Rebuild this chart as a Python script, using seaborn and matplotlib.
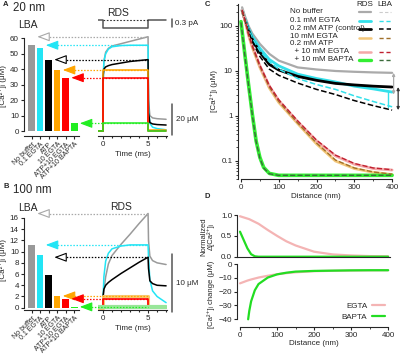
import matplotlib
matplotlib.use("Agg")
import matplotlib.pyplot as plt
import matplotlib.ticker as mticker
from matplotlib.lines import Line2D
import seaborn as sns

# %% Datos

# Panel A / B - barras LBA
bar_labels = ["No buffer", "0.1 EGTA", "ATP", "10 EGTA", "ATP+10 EGTA", "ATP+10 BAPTA"]
bar_colors = ["#999999", "#22e5f5", "#000000", "#ffa500", "#ff0000", "#22ee22"]
lba_20nm = [55.5, 54.0, 46.0, 39.5, 34.5, 5.0]
lba_100nm = [11.2, 9.4, 5.8, 2.0, 1.5, 0.15]

# valores RDS al final del pulso (de ahi salen las flechas)
rds_peak_20nm = [61.0, 55.5, 46.2, 39.5, 34.5, 5.0]
rds_peak_100nm = [16.8, 11.2, 9.0, 2.1, 1.6, 0.15]

# trazas RDS (tiempo en ms)
t_curve = [-0.55, 0, 0.02, 0.1, 0.3, 0.6, 1, 2, 3, 4, 5, 5.05, 5.2, 5.5, 6, 7]
a_nobuf = [0, 0, 30, 45, 51, 53.5, 55, 56.5, 58, 59.5, 61, 20, 10, 8.5, 8, 7.6]
a_egta01 = [0, 0, 30, 45, 50, 53, 54.5, 55.3, 55.5, 55.5, 55.5, 15, 5, 2.5, 1.6, 0.8]
a_atp = [0, 0, 36, 40, 41.5, 42.3, 43, 44, 45, 45.6, 46.2, 12, 5.5, 4.6, 4.2, 3.9]
b_nobuf = [0, 0, 1.5, 3, 5.5, 7.8, 9.3, 11.3, 13.1, 15.0, 16.8, 12, 9.2, 8.4, 8.0, 7.7]
b_egta01 = [0, 0, 2, 5.5, 8.3, 9.7, 10.5, 11.0, 11.2, 11.2, 11.2, 9, 5, 3, 2, 0.9]
b_atp = [0, 0, 2.2, 3.3, 4.0, 4.5, 5.0, 6.1, 7.1, 8.1, 9.0, 7, 4.8, 4.3, 4.0, 3.9]

t_step = [-0.55, 0, 0, 5, 5, 7]
a_egta10 = [0, 0, 39.5, 39.5, 0.5, 0.5]
a_atp_egta = [0, 0, 34.5, 34.5, 0.3, 0.3]
a_atp_bapta = [0, 0, 5.0, 5.0, 0.2, 0.2]
b_egta10 = [0, 0, 2.1, 2.1, 0.1, 0.1]
b_atp_egta = [0, 0, 1.6, 1.6, 0.1, 0.1]
b_atp_bapta = [0.1, 0.1, 0.15, 0.15, 0.08, 0.08]

# corriente de Ca (pA)
t_cur = [-0.55, 0, 0, 5, 5, 7]
i_cur = [0, 0, -0.3, -0.3, 0, 0]

# Panel C - perfiles espaciales (nm, uM)
c_dist = [3, 10, 20, 30, 50, 75, 100, 150, 200, 250, 300, 350, 400]
c_nobuf_rds = [260, 170, 100, 68, 40, 24, 17, 12, 10.8, 10, 9.6, 9.3, 9.1]
c_egta01_rds = [230, 150, 88, 58, 32, 18, 13, 8.5, 6.8, 5.7, 4.6, 4.0, 3.4]
c_egta01_lba = [230, 150, 85, 54, 28, 16, 11, 6.8, 5.0, 3.9, 2.8, 2.1, 1.6]
c_atp_rds = [220, 140, 80, 50, 26, 14, 10.5, 7.6, 6.2, 5.3, 4.9, 4.6, 4.4]
c_atp_lba = [220, 140, 75, 45, 21, 11, 8, 5.4, 3.9, 3.0, 2.2, 1.7, 1.35]
c_egta10_rds = [225, 140, 62, 33, 12, 4.2, 2.0, 0.68, 0.24, 0.10, 0.068, 0.056, 0.050]
c_egta10_lba = [220, 138, 63, 34, 12.5, 4.4, 2.1, 0.70, 0.25, 0.105, 0.070, 0.057, 0.051]
c_atpegta_rds = [230, 145, 65, 36, 13, 4.6, 2.2, 0.75, 0.28, 0.13, 0.085, 0.068, 0.063]
c_atpegta_lba = [228, 142, 66, 37, 13.5, 4.8, 2.3, 0.78, 0.29, 0.135, 0.088, 0.070, 0.064]
c_dist_bapta = [0, 10, 20, 30, 40, 50, 60, 75, 100, 200, 300, 400]
c_bapta_rds = [125, 24, 5, 1.1, 0.28, 0.12, 0.072, 0.053, 0.048, 0.048, 0.048, 0.048]
c_bapta_lba = [120, 23, 4.8, 1.05, 0.27, 0.115, 0.07, 0.052, 0.048, 0.048, 0.048, 0.048]

# Panel D
d_dist_egta = [0, 25, 50, 75, 100, 125, 150, 200, 250, 300, 350, 400]
d_norm_egta = [0.97, 0.9, 0.79, 0.64, 0.5, 0.37, 0.27, 0.12, 0.055, 0.03, 0.015, 0.01]
d_dist_bnorm = [0, 5, 10, 20, 30, 40, 50, 400]
d_norm_bapta = [0.6, 0.5, 0.4, 0.2, 0.06, 0.01, 0.0, 0.0]
d_dist_echg = [0, 10, 20, 30, 40, 50, 75, 100, 125, 150, 200, 250, 300, 350, 400]
d_chg_egta = [-14, -13, -12, -11.2, -10.5, -9.8, -8.5, -7.4, -6.6, -6.0, -5.2, -4.9, -4.7, -4.6, -4.5]
d_dist_bchg = [22, 25, 30, 40, 50, 75, 100, 125, 150, 200, 250, 300, 350, 400]
d_chg_bapta = [-40, -34, -27, -19, -14.5, -9.8, -7.5, -6.3, -5.5, -5.0, -4.8, -4.6, -4.5, -4.5]

# %% Estilo
sns.set_style("ticks")
plt.rcParams["font.family"] = ["Liberation Sans", "DejaVu Sans"]
plt.rcParams["axes.linewidth"] = 0.8
plt.rcParams["xtick.major.width"] = 0.8
plt.rcParams["ytick.major.width"] = 0.8
plt.rcParams["xtick.major.size"] = 2.5
plt.rcParams["ytick.major.size"] = 2.5
plt.rcParams["xtick.minor.size"] = 1.5
plt.rcParams["ytick.minor.size"] = 1.5
plt.rcParams["xtick.labelsize"] = 5.8
plt.rcParams["ytick.labelsize"] = 5.8
plt.rcParams["xtick.major.pad"] = 1.2
plt.rcParams["ytick.major.pad"] = 1.2

FS = 5.8  # texto chico
W, H = 400, 355
fig = plt.figure(figsize=(W / 100, H / 100), dpi=100)


def px_ax(x0, y0, x1, y1):
    return fig.add_axes([x0 / W, 1 - y1 / H, (x1 - x0) / W, (y1 - y0) / H])


def px_text(x, y, s, **kw):
    fig.text(x / W, 1 - y / H, s, **kw)


ylab = "[Ca²⁺]ᵢ (μM)"


def panel_lba(y0, y1, ylim, vals, yticks):
    ax = px_ax(24, y0, 79.3, y1)
    sns.barplot(x=bar_labels, y=vals, hue=bar_labels, palette=bar_colors, legend=False,
                width=0.78, saturation=1, ax=ax, edgecolor="none")
    ax.set_xlim(-0.9, 5.6)
    ax.set_ylim(*ylim)
    ax.set_yticks(yticks)
    ax.spines[["top", "right"]].set_visible(False)
    ax.spines["left"].set_bounds(yticks[0], yticks[-1])
    ax.set_xticks(range(6))
    ax.set_xticklabels(bar_labels, rotation=45, ha="right", rotation_mode="anchor", fontsize=5.0)
    ax.tick_params(axis="x", pad=1.0)
    ax.set_xlabel("")
    ax.set_ylabel(ylab, fontsize=FS)
    ax.yaxis.set_label_coords(-0.3, 0.5)
    return ax


def panel_rds(y0, y1, ylim, curves, steps, step_lw):
    ax = px_ax(98, y0, 167, y1)
    for vals, col in curves:
        sns.lineplot(x=t_curve, y=vals, color=col, lw=1.1, estimator=None, sort=False, ax=ax)
    for (vals, col), lw in zip(steps, step_lw):
        sns.lineplot(x=t_step, y=vals, color=col, lw=lw, estimator=None, sort=False, ax=ax)
    ax.set_xlim(-0.55, 7.1)
    ax.set_ylim(*ylim)
    ax.spines[["top", "right", "left"]].set_visible(False)
    ax.set_yticks([])
    ax.set_xticks([0, 5])
    ax.xaxis.set_minor_locator(mticker.FixedLocator([1, 2, 3, 4, 6, 7]))
    ax.tick_params(axis="x", which="minor", length=1.5, width=0.8)
    ax.set_xlabel("Time (ms)", fontsize=FS, labelpad=2)
    return ax


def arrows(ax_bar, ax_tr, peaks):
    styles = [("#a8a8a8", "white"), ("#22e5f5", "#22e5f5"), ("#000000", "white"),
              ("#ffa500", "#ffa500"), ("#ff0000", "#ff0000"), ("#22ee22", "#22ee22")]
    for i, v in enumerate(peaks):
        disp = ax_bar.transData.transform((i + 0.39, v))
        tip = ax_tr.transData.inverted().transform(disp)[0] + 0.25
        ec, fc = styles[i]
        ax_tr.plot([tip + 0.6, 5], [v, v], color=ec, lw=0.9, ls=(0, (1.2, 1.3)), clip_on=False)
        ax_tr.annotate("", xy=(tip, v), xytext=(tip + 1.15, v), annotation_clip=False,
                       arrowprops=dict(arrowstyle="-|>,head_length=0.75,head_width=0.28",
                                       mutation_scale=10, fc=fc, ec=ec, lw=0.8,
                                       shrinkA=0, shrinkB=0))


# %% Panel A
axA = panel_lba(35.2, 136, (-3.2, 62), lba_20nm, [0, 10, 20, 30, 40, 50, 60])
axAt = panel_rds(35.2, 136, (-3.2, 62),
                 [(a_nobuf, "#9a9a9a"), (a_egta01, "#22e5f5"), (a_atp, "#000000")],
                 [(a_egta10, "#ffa500"), (a_atp_egta, "#ff0000"), (a_atp_bapta, "#22ee22")],
                 [1.1, 1.1, 1.1])
arrows(axA, axAt, rds_peak_20nm)
axAt.plot([7.65, 7.65], [-2.5, 17.5], color="#555555", lw=1.1, clip_on=False)
axAt.text(8.1, 7.5, "20 μM", fontsize=FS, va="center", ha="left")

axI = px_ax(98, 14, 167, 33)
sns.lineplot(x=t_cur, y=i_cur, color="#555555", lw=1.1, estimator=None, sort=False, ax=axI)
axI.plot([0, 5], [0, 0], color="#333333", lw=0.8, ls=(0, (1.5, 1.5)))
axI.set_xlim(-0.55, 7.1)
axI.set_ylim(-0.4875, 0.225)
axI.axis("off")
axI.plot([7.65, 7.65], [0.02, -0.26], color="#555555", lw=1.1, clip_on=False)
axI.text(8.0, -0.12, "0.3 pA", fontsize=FS, va="center", ha="left")

px_text(3, 5, "A", fontsize=5.5, fontweight="bold", va="center")
px_text(13, 8, "20 nm", fontsize=8.3, va="center")
px_text(18, 25, "LBA", fontsize=7.5, va="center")
px_text(118, 13, "RDS", fontsize=7.5, va="center", ha="center")

# %% Panel B
axB = panel_lba(209.3, 310, (-0.41, 17.55), lba_100nm, [0, 2, 4, 6, 8, 10, 12, 14, 16])
axBt = panel_rds(209.3, 310, (-0.41, 17.55),
                 [(b_nobuf, "#9a9a9a"), (b_egta01, "#22e5f5"), (b_atp, "#000000")],
                 [(b_egta10, "#f8c870"), (b_atp_egta, "#ff0000"), (b_atp_bapta, "#99e699")],
                 [2.2, 1.2, 3.0])
arrows(axB, axBt, rds_peak_100nm)
axBt.plot([7.65, 7.65], [-0.7, 9.5], color="#555555", lw=1.1, clip_on=False)
axBt.text(8.1, 4.4, "10 μM", fontsize=FS, va="center", ha="left")

px_text(3, 187, "B", fontsize=5.5, fontweight="bold", va="center")
px_text(13, 190, "100 nm", fontsize=8.3, va="center")
px_text(18, 208, "LBA", fontsize=7.5, va="center")
px_text(121, 207, "RDS", fontsize=7.5, va="center", ha="center")

# %% Panel C
axC = px_ax(237.7, 4, 394, 179)
c_series = [
    (c_nobuf_rds, c_dist, "#aaaaaa", "-", 1.6),
    (c_egta01_rds, c_dist, "#33e0ea", "-", 2.0),
    (c_atp_rds, c_dist, "#000000", "-", 2.0),
    (c_egta10_rds, c_dist, "#f3c77a", "-", 2.0),
    (c_atpegta_rds, c_dist, "#f4a8a8", "-", 2.0),
    (c_bapta_rds, c_dist_bapta, "#33ee33", "-", 2.6),
    (c_egta01_lba, c_dist, "#33e0ea", "--", 1.1),
    (c_atp_lba, c_dist, "#000000", "--", 1.1),
    (c_egta10_lba, c_dist, "#a0702a", "--", 1.0),
    (c_atpegta_lba, c_dist, "#c02030", "--", 1.0),
    (c_bapta_lba, c_dist_bapta, "#3a6a3a", "--", 1.0),
]
for vals, xs, col, ls, lw in c_series:
    sns.lineplot(x=xs, y=vals, color=col, ls=ls, lw=lw, estimator=None, sort=False, ax=axC)
axC.set_yscale("log")
axC.set_xlim(-8.7, 405)
axC.set_ylim(0.0398, 308)
axC.spines[["top", "right"]].set_visible(False)
axC.spines["bottom"].set_bounds(0, 400)
axC.set_xticks([0, 100, 200, 300, 400])
axC.xaxis.set_minor_locator(mticker.FixedLocator([50, 150, 250, 350]))
axC.set_yticks([0.1, 1, 10, 100])
axC.set_yticklabels(["0.1", "1", "10", "100"])
axC.yaxis.set_minor_locator(mticker.LogLocator(base=10, subs=range(2, 10)))
axC.yaxis.set_minor_formatter(mticker.NullFormatter())
axC.set_xlabel("Distance (nm)", fontsize=FS, labelpad=1)
axC.set_ylabel(ylab, fontsize=FS, labelpad=1)
# diferencias RDS-LBA a 400 nm
axC.plot([388, 388], [c_egta01_rds[-1], c_egta01_lba[-1]], color="#33e0ea", lw=1.0, clip_on=False)
axC.annotate("", xy=(404, 3.0), xytext=(404, c_nobuf_rds[-1]), annotation_clip=False,
             arrowprops=dict(arrowstyle="<|-|>", mutation_scale=4, color="#aaaaaa", lw=0.9,
                             shrinkA=0, shrinkB=0))
axC.annotate("", xy=(416, c_atp_lba[-1]), xytext=(416, c_atp_rds[-1]), annotation_clip=False,
             arrowprops=dict(arrowstyle="<|-|>", mutation_scale=4, color="#333333", lw=0.9,
                             shrinkA=0, shrinkB=0))

# leyenda manual
leg_rows = [
    ("No buffer", 11.7, "#aaaaaa", 1.6, "#cccccc", 0.8),
    ("0.1 mM EGTA", 20.5, "#33e0ea", 2.0, "#33e0ea", 1.0),
    ("0.2 mM ATP (control)", 28.8, "#000000", 2.0, "#000000", 1.1),
    ("10 mM EGTA", 37.0, "#f3c77a", 1.8, "#a0702a", 1.0),
    ("0.2 mM ATP", 43.5, None, 0, None, 0),
    ("  + 10 mM EGTA", 51.5, "#f4a8a8", 1.8, "#c02030", 1.0),
    ("  + 10 mM BAPTA", 59.5, "#33ee33", 2.4, "#3a6a3a", 1.0),
]
for txt, y, c1, w1, c2, w2 in leg_rows:
    px_text(290.5, y, txt, fontsize=5.8, va="center")
    if c1 is not None:
        yy = 1 - (y + 0.5) / H
        fig.add_artist(Line2D([359 / W, 371 / W], [yy, yy], color=c1, lw=w1))
        fig.add_artist(Line2D([379 / W, 391 / W], [yy, yy], color=c2, lw=w2, ls=(0, (3, 2))))
px_text(365, 4.5, "RDS", fontsize=5.8, va="center", ha="center")
px_text(385, 4.5, "LBA", fontsize=5.8, va="center", ha="center")
px_text(205, 5, "C", fontsize=5.5, fontweight="bold", va="center")

# %% Panel D
axD1 = px_ax(237.3, 212, 390, 257)
sns.lineplot(x=d_dist_egta, y=d_norm_egta, color="#f4b4b4", lw=1.6, estimator=None, sort=False, ax=axD1)
sns.lineplot(x=d_dist_bnorm, y=d_norm_bapta, color="#22dd22", lw=1.6, estimator=None, sort=False, ax=axD1)
axD1.set_xlim(-7.3, 405)
axD1.set_ylim(-0.007, 1.072)
axD1.spines[["top", "right"]].set_visible(False)
axD1.spines["left"].set_bounds(0, 1.0)
axD1.set_yticks([0.0, 0.5, 1.0])
axD1.set_yticklabels(["0.0", "0.5", "1.0"])
axD1.set_xticks([])
axD1.set_ylabel("Normalized\nΔ[Ca²⁺]ᵢ", fontsize=5.5, linespacing=0.95)
axD1.yaxis.set_label_coords(-0.145, 0.45)

axD2 = px_ax(237.3, 262, 390, 326.7)
sns.lineplot(x=d_dist_echg, y=d_chg_egta, color="#f4b4b4", lw=1.6, estimator=None, sort=False,
             ax=axD2, label="EGTA")
sns.lineplot(x=d_dist_bchg, y=d_chg_bapta, color="#22dd22", lw=1.6, estimator=None, sort=False,
             ax=axD2, label="BAPTA")
axD2.set_xlim(-7.3, 405)
axD2.set_ylim(-45.35, 1.45)
axD2.spines[["top", "right"]].set_visible(False)
axD2.spines["left"].set_bounds(-40, 0)
axD2.spines["bottom"].set_bounds(0, 400)
axD2.set_yticks([0, -10, -20, -30, -40])
axD2.set_xticks([0, 100, 200, 300, 400])
axD2.xaxis.set_minor_locator(mticker.FixedLocator([50, 150, 250, 350]))
axD2.set_xlabel("Distance (nm)", fontsize=FS, labelpad=1)
axD2.set_ylabel("[Ca²⁺]ᵢ change (μM)", fontsize=5.5)
axD2.yaxis.set_label_coords(-0.145, 0.5)
axD2.legend(loc="lower right", frameon=False, fontsize=FS, markerfirst=False,
            handlelength=1.6, handletextpad=0.6, labelspacing=0.35,
            bbox_to_anchor=(1.0, 0.02), borderaxespad=0.2)
px_text(205, 196, "D", fontsize=5.5, fontweight="bold", va="center")

fig.savefig("out.png", dpi=100)
